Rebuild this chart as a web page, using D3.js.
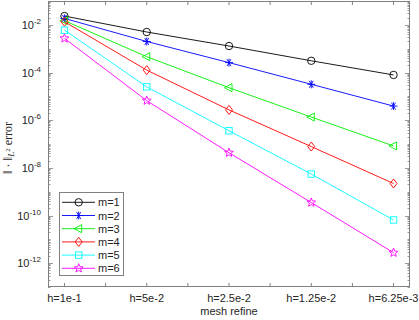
<!DOCTYPE html>
<html><head><meta charset="utf-8">
<script src="https://cdn.jsdelivr.net/npm/d3@7"></script>
<style>body{margin:0;background:#fff}svg{display:block}text{font-family:"Liberation Sans",Arial,sans-serif}</style>
</head><body><svg id="c" width="419" height="320"></svg>
<script>
const categories = ["h=1e-1","h=5e-2","h=2.5e-2","h=1.25e-2","h=6.25e-3"];
const seriesNames = ["m=1","m=2","m=3","m=4","m=5","m=6"];
const m1 = [2.34e-2, 5.0e-3, 1.29e-3, 3.1e-4, 7.9e-5];
const m2 = [1.86e-2, 2.0e-3, 2.6e-4, 3.2e-5, 3.9e-6];
const m3 = [1.5e-2, 4.6e-4, 2.3e-5, 1.35e-6, 8.3e-8];
const m4 = [1.35e-2, 1.26e-4, 2.7e-6, 7.8e-8, 2.2e-9];
const m5 = [6.0e-3, 2.5e-5, 3.6e-7, 5.5e-9, 6.5e-11];
const m6 = [2.7e-3, 6.6e-6, 4.3e-8, 3.5e-10, 2.75e-12];
const yTickExps = [-12,-10,-8,-6,-4,-2];
const colors = ["#000000","#0000ff","#00ee00","#ff0000","#00ffff","#ff00ff"];
const markers = ["circle","asterisk","triangle","diamond","square","star"];
const allSeries = [m1,m2,m3,m4,m5,m6];

const svg = d3.select("#c");
const L=48, R=410, T=1, B=287;
const x = d3.scaleLinear().domain([0.8,5.2]).range([L,R]);
const y = d3.scaleLog().domain([1e-13,1e-1]).range([B,T]);
const axisCol = "#808080";

const g = svg.append("g");
const xt = d3.range(1,5.01,0.5);
xt.forEach(v=>{
  g.append("line").attr("x1",x(v)).attr("x2",x(v)).attr("y1",B).attr("y2",B-4).attr("stroke",axisCol);
  g.append("line").attr("x1",x(v)).attr("x2",x(v)).attr("y1",T).attr("y2",T+4).attr("stroke",axisCol);
});
for(let e=-13;e<-1;e++){
  for(let k=1;k<10;k++){
    const v=k*Math.pow(10,e);
    const major = (k===1 && yTickExps.includes(e));
    const len = major?5:2.5;
    const yy=Math.round(y(v))+0.5;
    g.append("line").attr("x1",L).attr("x2",L+len).attr("y1",yy).attr("y2",yy).attr("stroke",axisCol).attr("stroke-width",0.8);
    g.append("line").attr("x1",R).attr("x2",R-len).attr("y1",yy).attr("y2",yy).attr("stroke",axisCol).attr("stroke-width",0.8);
  }
}
svg.append("rect").attr("x",L+0.5).attr("y",T+0.5).attr("width",R-L-1).attr("height",B-T-1)
  .attr("fill","none").attr("stroke",axisCol);

categories.forEach((c,i)=>{
  svg.append("text").attr("x",x(i+1)).attr("y",302).attr("text-anchor","middle")
    .attr("font-size",11).attr("fill","#262626").text(c);
});
yTickExps.forEach(e=>{
  const t=svg.append("text").attr("x",41).attr("y",y(Math.pow(10,e))+4).attr("text-anchor","end")
    .attr("font-size",11).attr("fill","#262626");
  t.append("tspan").text("10");
  t.append("tspan").attr("dy",-5).attr("font-size",8).text(String(e));
});
svg.append("text").attr("x",(L+R)/2).attr("y",315).attr("text-anchor","middle").attr("font-size",11)
  .attr("fill","#262626").text("mesh refine");
const yl = svg.append("text").attr("transform",`translate(12,148) rotate(-90)`).attr("text-anchor","middle")
  .attr("font-size",12).attr("fill","#262626").style("font-family","'Liberation Serif','DejaVu Serif',serif");
yl.append("tspan").attr("font-size",13).text("\u2016");
yl.append("tspan").attr("font-size",12).text(" \u00b7 ");
yl.append("tspan").attr("font-size",13).text("\u2016");
yl.append("tspan").attr("dy",2).attr("font-size",9).attr("font-style","italic").text("L");
yl.append("tspan").attr("dy",-4).attr("font-size",7).text("2");
yl.append("tspan").attr("dy",2).attr("font-size",12).text(" error");

function drawMarker(sel, type, cx, cy, col){
  const s=4;
  if(type==="circle") sel.append("circle").attr("cx",cx).attr("cy",cy).attr("r",3.7).attr("fill","none").attr("stroke",col);
  else if(type==="square") sel.append("rect").attr("x",cx-3.2).attr("y",cy-3.2).attr("width",6.4).attr("height",6.4).attr("fill","none").attr("stroke",col);
  else if(type==="diamond") sel.append("path").attr("d",`M${cx},${cy-4.5}L${cx+3.5},${cy}L${cx},${cy+4.5}L${cx-3.5},${cy}Z`).attr("fill","none").attr("stroke",col);
  else if(type==="triangle") sel.append("path").attr("d",`M${cx-4.5},${cy}L${cx+3},${cy-4}L${cx+3},${cy+4}Z`).attr("fill","none").attr("stroke",col);
  else if(type==="asterisk"){
    let d="";
    [0,60,120].forEach(a=>{const r=a*Math.PI/180;d+=`M${cx-s*Math.cos(r)},${cy-s*Math.sin(r)}L${cx+s*Math.cos(r)},${cy+s*Math.sin(r)}`;});
    d+=`M${cx},${cy-s}L${cx},${cy+s}`;
    sel.append("path").attr("d",d).attr("stroke",col).attr("fill","none");
  } else if(type==="star"){
    const pts=[];for(let i=0;i<10;i++){const a=-Math.PI/2+i*Math.PI/5;const r=i%2?2:4.6;pts.push([cx+r*Math.cos(a),cy+r*Math.sin(a)]);}
    sel.append("path").attr("d","M"+pts.join("L")+"Z").attr("fill","none").attr("stroke",col);
  }
}

const line = d3.line().x((d,i)=>x(i+1)).y(d=>y(d));
allSeries.forEach((s,k)=>{
  svg.append("path").datum(s).attr("d",line).attr("fill","none").attr("stroke",colors[k]).attr("stroke-width",0.9);
  const mg=svg.append("g").attr("stroke-width",0.9);
  s.forEach((v,i)=>drawMarker(mg,markers[k],x(i+1),y(v),colors[k]));
});

const lg = svg.append("g");
lg.append("rect").attr("x",59.5).attr("y",192.5).attr("width",64).attr("height",83).attr("fill","#fff").attr("stroke",axisCol);
seriesNames.forEach((n,k)=>{
  const yy=202.3+k*13.2;
  lg.append("line").attr("x1",62).attr("x2",95).attr("y1",yy).attr("y2",yy).attr("stroke",colors[k]).attr("stroke-width",0.9);
  const mg=lg.append("g").attr("stroke-width",0.9);
  drawMarker(mg,markers[k],78.7,yy,colors[k]);
  lg.append("text").attr("x",98).attr("y",yy+4).attr("font-size",11).attr("fill","#262626").text(n);
});
</script></body></html>
